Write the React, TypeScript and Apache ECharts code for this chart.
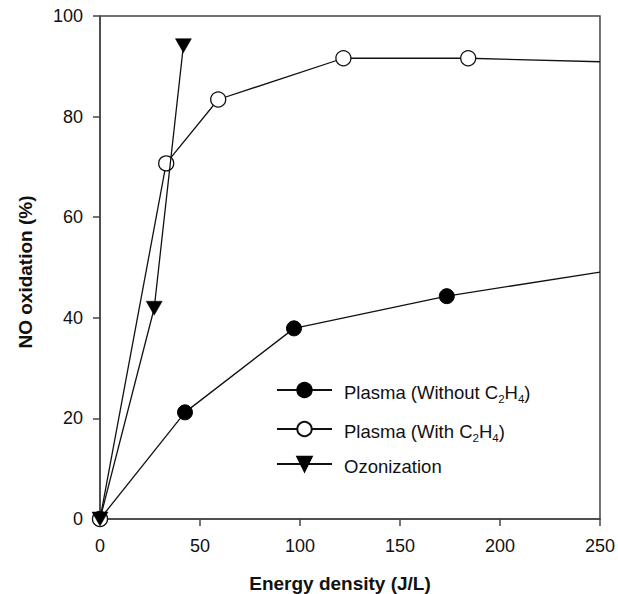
import React, { useEffect, useRef } from "react";
import * as echarts from "echarts";

const plasmaWithoutX = [0, 42.5, 97.0, 173.4, 250];
const plasmaWithoutY = [0, 21.2, 37.9, 44.3, 49.1];
const plasmaWithX = [0, 33.1, 59.1, 121.7, 184.1, 250];
const plasmaWithY = [0, 70.7, 83.4, 91.6, 91.6, 90.9];
const ozoneX = [0, 27.1, 41.7];
const ozoneY = [0, 41.9, 94.1];
const seriesNames = ["Plasma (Without C2H4)", "Plasma (With C2H4)", "Ozonization"];
const legendLabels = [
  "{f|Plasma (Without C}{b|2}{a|H}{b|4}{a|)}",
  "{f|Plasma (With C}{b|2}{a|H}{b|4}{a|)}",
  "{f|Ozonization}",
];
const xTitle = "Energy density (J/L)";
const yTitle = "NO oxidation (%)";

const FONT = "'Liberation Sans', Arial, Helvetica, sans-serif";
const TRI = "path://M0,0L10,0L5,9Z";

function pts(xs: number[], ys: number[], lastNoSymbol: boolean) {
  return xs.map((x, i) =>
    lastNoSymbol && i === xs.length - 1
      ? { value: [x, ys[i]], symbol: "none" }
      : { value: [x, ys[i]] }
  );
}

export default function App() {
  const ref = useRef<HTMLDivElement>(null);
  useEffect(() => {
    if (!ref.current) return;
    const chart = echarts.init(ref.current, undefined, { renderer: "svg" });
    const rich = {
      f: { fontSize: 18.5, lineHeight: 18, padding: [2, 0, 0, 7], verticalAlign: "top", color: "#111", fontFamily: FONT },
      a: { fontSize: 18.5, lineHeight: 18, padding: [2, 0, 0, 0], verticalAlign: "top", color: "#111", fontFamily: FONT },
      b: { fontSize: 11.5, lineHeight: 11, padding: [12, 0, 0, 0], verticalAlign: "top", color: "#111", fontFamily: FONT },
    };
    const legendTops = [381, 420, 455];
    const legends = seriesNames.map((n, i) => ({
      data: [n],
      orient: "vertical",
      left: 276,
      top: legendTops[i],
      padding: 0,
      itemWidth: 55,
      itemHeight: 18,
      selectedMode: false,
      formatter: () => legendLabels[i],
      textStyle: { rich },
    }));
    const axisLine = { lineStyle: { color: "#444", width: 1.5 } };
    chart.setOption({
      animation: false,
      backgroundColor: "#fff",
      grid: {
        left: 100,
        right: 16,
        top: 16,
        bottom: 75,
        show: true,
        borderColor: "#444",
        borderWidth: 1.5,
      },
      legend: legends,
      xAxis: {
        type: "value",
        min: 0,
        max: 250,
        interval: 50,
        splitLine: { show: false },
        axisLine,
        axisTick: { show: true, inside: false, length: 7, lineStyle: { color: "#444", width: 1.5 } },
        axisLabel: { fontSize: 18, color: "#111", margin: 18, fontFamily: FONT },
      },
      yAxis: {
        type: "value",
        min: 0,
        max: 100,
        interval: 20,
        splitLine: { show: false },
        axisLine: { show: true, ...axisLine },
        axisTick: { show: true, inside: false, length: 7, lineStyle: { color: "#444", width: 1.5 } },
        axisLabel: { fontSize: 18, color: "#111", margin: 17, fontFamily: FONT },
      },
      graphic: [
        {
          type: "text",
          x: 340,
          y: 583,
          style: {
            text: xTitle,
            font: `bold 19px ${FONT}`,
            fill: "#111",
            textAlign: "center",
            textVerticalAlign: "middle",
          },
        },
        {
          type: "text",
          x: 25,
          y: 272,
          rotation: Math.PI / 2,
          style: {
            text: yTitle,
            font: `bold 19px ${FONT}`,
            fill: "#111",
            textAlign: "center",
            textVerticalAlign: "middle",
          },
        },
      ],
      series: [
        {
          name: seriesNames[0],
          type: "line",
          data: pts(plasmaWithoutX, plasmaWithoutY, true),
          symbol: "circle",
          symbolSize: 15,
          lineStyle: { color: "#111", width: 1.3 },
          itemStyle: { color: "#000", borderColor: "#000", borderWidth: 1 },
          z: 2,
        },
        {
          name: seriesNames[1],
          type: "line",
          data: pts(plasmaWithX, plasmaWithY, true),
          symbol: "circle",
          symbolSize: 15,
          showAllSymbol: true,
          lineStyle: { color: "#111", width: 1.3 },
          itemStyle: { color: "#fff", borderColor: "#111", borderWidth: 1.3 },
          z: 3,
        },
        {
          name: seriesNames[2],
          type: "line",
          data: pts(ozoneX, ozoneY, false),
          symbol: TRI,
          symbolSize: [16, 14],
          lineStyle: { color: "#111", width: 1.3 },
          itemStyle: { color: "#000", borderColor: "#000", borderWidth: 0.5 },
          z: 4,
        },
      ],
    });
    return () => chart.dispose();
  }, []);
  return (
    <div
      ref={ref}
      style={{ position: "fixed", left: 0, top: 0, width: 618, height: 594, background: "#fff" }}
    />
  );
}
